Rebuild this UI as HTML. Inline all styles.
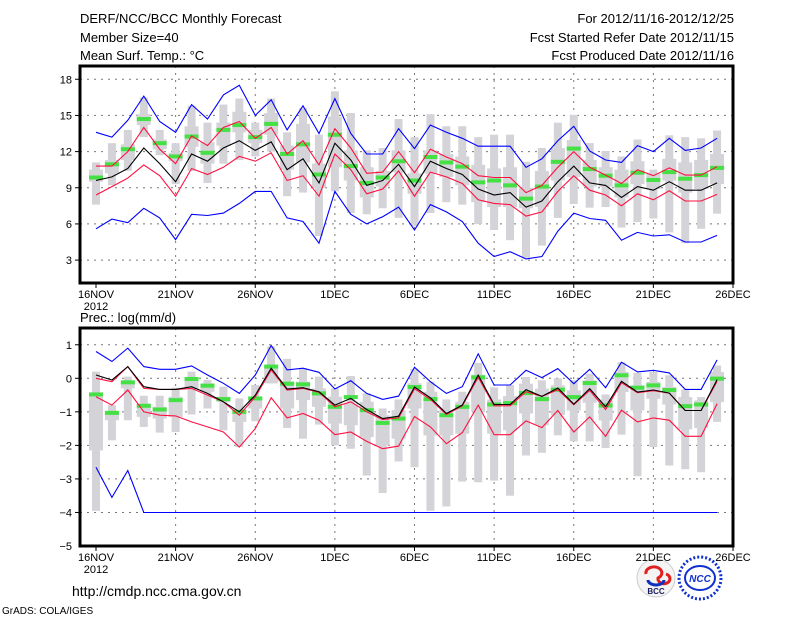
<!DOCTYPE html>
<html><head><meta charset="utf-8">
<style>
html,body{margin:0;padding:0;background:#fff;}
svg{display:block;font-family:"Liberation Sans","DejaVu Sans",sans-serif;}
</style></head>
<body>
<svg id="chart" width="800" height="618" viewBox="0 0 800 618">
<g font-size="13" fill="#000">
<text x="80" y="23">DERF/NCC/BCC Monthly Forecast</text>
<text x="80" y="42">Member Size=40</text>
<text x="80" y="60">Mean Surf. Temp.: °C</text>
<text x="734" y="23" text-anchor="end">For 2012/11/16-2012/12/25</text>
<text x="734" y="42" text-anchor="end">Fcst Started Refer Date 2012/11/15</text>
<text x="734" y="60" text-anchor="end">Fcst Produced Date 2012/11/16</text>
<text x="80" y="322">Prec.: log(mm/d)</text>
<text x="72" y="596" font-size="14">http://cmdp.ncc.cma.gov.cn</text>
<text x="2" y="614" font-size="10">GrADS: COLA/IGES</text>
</g>
<g>
<circle cx="656" cy="578" r="19" fill="#f4f4f4" stroke="#ccc"/>
<path d="M646 574 a8 6 0 1 1 12 4 a6 5 0 1 0 8 -4" stroke="#e02020" stroke-width="3" fill="none"/>
<path d="M648 580 a8 5 0 0 0 16 0" stroke="#1030c0" stroke-width="3" fill="none"/>
<text x="656" y="594" font-size="8" font-weight="bold" text-anchor="middle" fill="#1a1a60">BCC</text>
</g>
<g>
<circle cx="700" cy="578" r="21" fill="none" stroke="#1030d0" stroke-width="3" stroke-dasharray="2 2"/>
<ellipse cx="700" cy="578" rx="15" ry="12" fill="none" stroke="#1030d0" stroke-width="2"/>
<text x="700" y="582" font-size="10" font-weight="bold" font-style="italic" text-anchor="middle" fill="#1030d0">NCC</text>
</g>
<g id="top"></g>
<g id="bot"></g>
</svg>
<script>
// ---- Temperature panel data (days 16NOV .. 25DEC) ----
const tBlueHi=[13.6,13.2,14.6,16.6,14.5,13.6,15.9,14.7,16.7,17.5,15.0,16.3,13.8,15.8,13.5,16.4,13.5,11.8,11.8,13.9,12.25,14.2,13.6,13.1,12.45,12.45,12.45,10.7,11.4,12.9,14.1,12.05,11.3,11.1,12.5,12.0,13.1,12.1,12.3,13.1];
const tRedHi=[10.8,10.8,12.0,14.0,12.2,11.0,13.3,12.5,14.0,14.5,13.1,14.0,11.8,12.9,10.9,13.9,12.3,10.2,10.3,12.0,10.25,12.2,11.55,11.0,10.0,9.85,9.85,8.6,9.2,10.7,12.0,10.7,10.05,9.35,10.5,10.0,10.65,10.05,10.05,10.75];
const tMean=[9.6,9.9,10.6,12.3,11.0,9.5,11.8,11.2,12.3,12.9,12.1,12.8,10.5,11.4,9.4,12.7,11.3,9.2,9.6,10.95,9.1,11.2,10.6,10.1,8.9,8.4,8.6,7.4,7.9,9.5,10.8,9.4,9.2,8.2,9.1,8.8,9.5,8.8,8.8,9.4];
const tRedLo=[8.4,9.1,9.8,10.9,10.0,8.3,10.6,10.1,10.7,11.6,11.2,11.9,9.6,10.0,8.3,11.8,10.5,8.5,8.9,10.4,8.3,10.3,9.9,9.35,8.0,7.7,7.6,6.65,7.0,8.7,10.0,8.8,8.4,7.5,8.5,8.0,8.75,7.9,7.9,8.45];
const tBlueLo=[5.6,6.4,6.1,7.3,6.5,4.7,6.8,6.7,6.9,7.7,8.7,8.7,6.5,6.2,4.4,8.7,6.8,6.0,6.6,7.4,5.5,7.6,7.0,6.2,4.4,3.3,3.7,3.1,3.3,5.4,6.9,6.45,6.3,4.65,5.3,5.0,5.1,4.5,4.5,5.05];
const tObs=[9.85,10.95,12.2,14.7,12.7,11.6,13.25,11.9,13.8,14.2,13.2,14.3,11.8,12.6,10.1,13.4,10.8,9.4,9.85,11.2,9.6,11.55,11.1,10.75,9.45,9.6,9.2,8.1,9.1,11.15,12.25,10.55,10.0,9.2,10.25,9.65,10.3,9.75,10.05,10.65];
const tMin=[7.6,9.2,10.4,13.2,11.7,9.3,10.4,9.4,11.0,11.3,11.6,12.0,8.3,8.6,5.0,8.7,6.9,6.8,7.3,6.5,5.8,6.9,7.8,7.6,6.0,5.5,4.65,3.2,4.2,6.5,7.65,7.35,7.4,5.7,6.15,6.45,5.3,4.4,5.6,6.85];
const tMax=[11.1,12.7,13.8,16.5,13.8,12.7,15.8,14.4,15.9,16.4,14.4,16.4,13.6,15.6,13.4,17.0,15.2,12.1,12.3,14.7,13.2,15.1,14.1,14.1,13.2,13.4,13.4,11.15,12.3,14.4,15.05,12.7,12.05,11.6,13.0,10.5,13.35,13.2,13.1,13.75];
const tQ1=[9.5,10.2,11.3,14.2,12.2,11.2,12.4,11.0,12.5,13.6,12.7,13.4,10.5,11.1,9.0,10.7,9.6,8.2,9.1,10.3,8.5,10.2,9.9,9.2,7.8,7.4,7.4,7.3,7.4,9.6,9.9,9.1,9.1,8.2,9.3,8.9,9.6,8.6,8.9,9.3];
const tQ3=[10.5,11.3,12.6,15.1,13.0,11.9,14.1,12.8,14.4,15.3,13.8,15.2,12.5,14.3,11.0,14.9,12.1,10.7,10.4,12.1,10.2,12.1,11.8,11.6,10.9,10.6,10.7,9.0,10.4,12.3,12.95,11.3,10.7,10.5,11.2,10.2,11.4,11.1,11.3,11.8];
const tTicks=[3,6,9,12,15,18];
// ---- Precipitation panel data ----
const pBlueHi=[0.8,0.5,0.9,0.35,0.27,0.27,0.37,0.1,-0.15,-0.45,0.1,0.98,0.25,0.3,0.18,-0.32,-0.07,-0.45,-0.63,-0.53,0.33,-0.1,-0.45,-0.25,0.73,-0.2,-0.2,0.24,0.02,0.29,-0.16,0.27,-0.28,0.48,0.19,0.24,0.16,-0.33,-0.33,0.55];
const pRedHi=[0.0,-0.1,0.35,-0.3,-0.33,-0.33,-0.3,-0.5,-0.7,-1.1,-0.55,0.25,-0.35,-0.3,-0.42,-0.85,-0.7,-1.0,-1.23,-1.18,-0.31,-0.63,-1.08,-0.82,0.03,-0.82,-0.82,-0.4,-0.54,-0.34,-0.79,-0.36,-0.93,-0.13,-0.43,-0.37,-0.44,-0.96,-0.96,-0.09];
const pMean=[0.1,-0.05,0.35,-0.25,-0.33,-0.33,-0.25,-0.45,-0.7,-1.0,-0.5,0.3,-0.32,-0.28,-0.4,-0.8,-0.6,-0.93,-1.2,-1.13,-0.26,-0.58,-1.05,-0.8,0.1,-0.78,-0.78,-0.34,-0.54,-0.29,-0.77,-0.31,-0.85,-0.09,-0.41,-0.35,-0.44,-0.96,-0.96,-0.04];
const pRedLo=[-0.55,-0.8,-0.35,-1.0,-1.1,-1.12,-1.3,-1.45,-1.6,-2.05,-1.5,-0.58,-1.18,-1.05,-1.25,-1.68,-1.6,-1.88,-2.1,-2.02,-1.14,-1.45,-1.95,-1.62,-0.8,-1.68,-1.68,-1.27,-1.47,-0.96,-1.6,-1.15,-1.73,-0.95,-1.3,-1.18,-1.25,-1.73,-1.73,-0.76];
const pBlueLo=[-2.65,-3.55,-2.75,-4,-4,-4,-4,-4,-4,-4,-4,-4,-4,-4,-4,-4,-4,-4,-4,-4,-4,-4,-4,-4,-4,-4,-4,-4,-4,-4,-4,-4,-4,-4,-4,-4,-4,-4,-4,-4];
const pObs=[-0.48,-1.03,-0.12,-0.82,-0.93,-0.65,-0.02,-0.22,-0.62,-1.0,-0.6,0.35,-0.16,-0.18,-0.45,-0.85,-0.56,-0.95,-1.33,-1.2,-0.26,-0.62,-1.1,-0.85,0.03,-0.78,-0.74,-0.44,-0.62,-0.34,-0.56,-0.14,-0.81,0.09,-0.28,-0.21,-0.35,-0.83,-0.78,-0.01];
const pMin=[-3.95,-1.85,-1.25,-1.45,-1.62,-1.6,-1.08,-0.9,-1.55,-2.05,-1.28,-0.15,-1.48,-1.8,-1.38,-2.0,-2.1,-2.9,-3.42,-2.48,-2.65,-3.95,-3.82,-3.08,-3.1,-3.05,-3.5,-2.3,-2.22,-1.7,-1.88,-1.88,-2.08,-1.68,-2.92,-2.05,-2.6,-2.71,-2.8,-1.3];
const pMax=[0.2,-0.8,0.05,-0.52,-0.52,-0.28,0.2,-0.05,-0.25,-0.6,-0.2,0.95,0.58,0.3,0.05,-0.3,0.07,-0.45,-0.9,-0.63,0.28,-0.1,-0.63,-0.4,0.46,-0.27,-0.2,0.04,-0.06,0.0,-0.06,0.14,-0.48,0.48,0.16,0.19,0.09,-0.33,-0.56,0.38];
const pQ1=[-2.15,-1.25,-0.3,-1.15,-1.2,-1.15,-0.3,-0.4,-0.7,-1.3,-0.9,-0.15,-0.9,-0.65,-0.85,-1.35,-1.4,-1.75,-2.0,-1.8,-0.9,-1.7,-1.7,-1.65,-1.0,-1.65,-1.55,-1.05,-1.4,-1.1,-0.96,-0.73,-1.26,-0.41,-0.96,-0.61,-0.78,-1.52,-1.48,-0.71];
const pQ3=[-0.5,-1.0,-0.1,-0.75,-0.85,-0.55,0.0,-0.15,-0.55,-1.0,-0.55,0.35,-0.1,-0.1,-0.3,-0.55,-0.75,-0.7,-1.1,-0.95,-0.15,-0.4,-0.95,-0.7,0.1,-0.63,-0.53,-0.16,-0.31,-0.21,-0.36,-0.06,-0.63,0.19,-0.21,-0.11,-0.26,-0.56,-0.66,0.19];
const pTicks=[-5,-4,-3,-2,-1,0,1];
const dateLabels=["16NOV","21NOV","26NOV","1DEC","6DEC","11DEC","16DEC","21DEC","26DEC"];
const labelDays=[0,5,10,15,20,25,30,35,40];

const NS="http://www.w3.org/2000/svg";
const X0=96, DX=(733-96)/40, LEFT=80, RIGHT=733;
function xOf(d){return X0+d*DX;}
function mk(tag,attrs,parent){const e=document.createElementNS(NS,tag);for(const k in attrs)e.setAttribute(k,attrs[k]);parent.appendChild(e);return e;}

function panel(g,top,bottom,vmin,vmax,ticks,S,prefix){
  const yOf=v=>bottom-(v-vmin)/(vmax-vmin)*(bottom-top);
  // grid
  ticks.forEach(t=>{
    if(t===vmin)return;
    const l=mk('line',{x1:LEFT,x2:RIGHT,y1:yOf(t),y2:yOf(t),stroke:'#777','stroke-width':1,'stroke-dasharray':'2 5'},g);
    
    
    const tk=mk('line',{x1:LEFT-5,x2:LEFT,y1:yOf(t),y2:yOf(t),stroke:'#000'},g);
    
    
    const tx=mk('text',{x:LEFT-8,y:yOf(t)+4,'text-anchor':'end','font-size':11},g);
    tx.textContent=String(t).replace('-','−');
    
    
  });
  if(ticks[0]===vmin){
    const tx=mk('text',{x:LEFT-8,y:yOf(vmin)+4,'text-anchor':'end','font-size':11},g);
    tx.textContent=String(vmin).replace('-','−');
    
    
  }
  labelDays.forEach((d,i)=>{
    const x=xOf(d);
    if(i>0&&i<labelDays.length-1){
      const l=mk('line',{x1:x,x2:x,y1:top,y2:bottom,stroke:'#777','stroke-width':1,'stroke-dasharray':'2 5'},g);
      
      
    }
    const tk=mk('line',{x1:x,x2:x,y1:bottom,y2:bottom+5,stroke:'#000'},g);
    
    
    const tx=mk('text',{x:x,y:bottom+15,'text-anchor':'middle','font-size':11},g);
    tx.textContent=dateLabels[i];
    
    
  });
  const yr=mk('text',{x:xOf(0),y:bottom+27,'text-anchor':'middle','font-size':11},g);
  yr.textContent='2012';
  
  
  // boxes
  for(let i=0;i<S.mn.length;i++){
    const x=xOf(i);
    const o=mk('rect',{x:x-4,y:yOf(S.mx[i]),width:8,height:yOf(S.mn[i])-yOf(S.mx[i]),fill:'#d3d3d8'},g);
    
    
    const b=mk('rect',{x:x-7,y:yOf(S.q3[i]),width:14,height:yOf(S.q1[i])-yOf(S.q3[i]),fill:'#d3d3d8'},g);
    
    
  }
  for(let i=0;i<S.obs.length;i++){
    const r=mk('rect',{x:xOf(i)-7,y:yOf(S.obs[i])-2,width:14,height:4,fill:'#44e044'},g);
    
    
  }
  const lines=[[S.bh,'#0000ff','upper-bound-line'],[S.bl,'#0000ff','lower-bound-line'],[S.rh,'#ff1040','upper-spread-line'],[S.rl,'#ff1040','lower-spread-line'],[S.mean,'#000','mean-line']];
  lines.forEach(([arr,c,n])=>{
    const p=mk('polyline',{points:arr.map((v,i)=>xOf(i).toFixed(1)+','+yOf(v).toFixed(1)).join(' '),fill:'none',stroke:c,'stroke-width':1.1},g);
    
    
  });
  const f=mk('rect',{x:LEFT,y:top,width:RIGHT-LEFT,height:bottom-top,fill:'none',stroke:'#000','stroke-width':3},g);
  
  
}
const gt=document.getElementById('top');


panel(gt,66,283,1.1,19.1,tTicks,{mn:tMin,mx:tMax,q1:tQ1,q3:tQ3,obs:tObs,bh:tBlueHi,bl:tBlueLo,rh:tRedHi,rl:tRedLo,mean:tMean},'temp');
const gb=document.getElementById('bot');


panel(gb,328,546,-5,1.5,pTicks,{mn:pMin,mx:pMax,q1:pQ1,q3:pQ3,obs:pObs,bh:pBlueHi,bl:pBlueLo,rh:pRedHi,rl:pRedLo,mean:pMean},'prec');
</script>
</body></html>
